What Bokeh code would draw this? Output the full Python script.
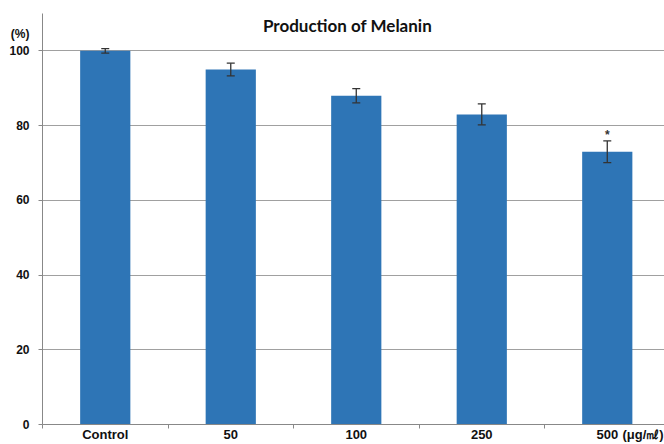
from bokeh.plotting import figure
from bokeh.models import (ColumnDataSource, Whisker, FixedTicker, Range1d, Label, TeeHead)
from bokeh.core.properties import value
from bokeh.embed import file_html
from bokeh.resources import INLINE

categories = ["Control", "50", "100", "250", "500"]
melanin = [100.0, 95.0, 88.0, 83.0, 73.0]
errors = [0.6, 1.7, 1.9, 2.8, 2.9]
marks = ["", "", "", "", "*"]
y_ticks = [0, 20, 40, 60, 80, 100]
y_unit = "(%)"
x_unit = "(μg/㎖)"

xpos = [i + 0.5 for i in range(len(categories))]
src = ColumnDataSource(dict(
    x=xpos, top=melanin,
    upper=[v + e for v, e in zip(melanin, errors)],
    lower=[v - e for v, e in zip(melanin, errors)],
    star_y=[v + e + 1.6 for v, e in zip(melanin, errors)],
    mark=marks,
))

p = figure(width=664, height=444, output_backend="svg", toolbar_location=None,
           x_range=Range1d(0, 4.956), y_range=Range1d(0, 110),
           min_border_left=42, min_border_right=0, min_border_top=13, min_border_bottom=0)
p.outline_line_color = None
p.background_fill_color = "white"

p.vbar(x="x", top="top", width=0.4, source=src, color="#2E75B6", line_color=None)

w = Whisker(base="x", upper="upper", lower="lower", source=src, line_color="#333333",
            line_width=1.3, level="overlay")
w.upper_head = TeeHead(size=8, line_color="#333333", line_width=1.3)
w.lower_head = TeeHead(size=8, line_color="#333333", line_width=1.3)
p.add_layout(w)

p.text(x="x", y="star_y", text="mark", source=src, text_align="center",
       text_baseline="middle", text_font=value("Liberation Sans"),
       text_font_style="bold", text_font_size="12px", text_color="#333333")

# x axis: labels at category centres, tick marks at category boundaries
unit_x = 4.785
p.xaxis.ticker = FixedTicker(ticks=xpos + [unit_x], minor_ticks=list(range(len(categories))))
overrides = {x: c for x, c in zip(xpos, categories)}
overrides[unit_x] = x_unit
p.xaxis.major_label_overrides = overrides
p.xaxis.major_tick_line_color = None
p.xaxis.major_tick_out = 0
p.xaxis.major_tick_in = 0
p.xaxis.minor_tick_line_color = "#888888"
p.xaxis.minor_tick_out = 0
p.xaxis.minor_tick_in = -4
p.xaxis.axis_line_color = "#888888"
p.xaxis.major_label_standoff = 2
p.xaxis.major_label_text_font = "Liberation Sans"
p.xaxis.major_label_text_font_style = "bold"
p.xaxis.major_label_text_font_size = "13px"
p.xaxis.major_label_text_color = "#111111"

# y axis: "(%)" as a label above 100
unit_y = 104.5
p.yaxis.ticker = FixedTicker(ticks=y_ticks + [unit_y], minor_ticks=y_ticks)
p.yaxis.major_label_overrides = {unit_y: y_unit}
p.yaxis.major_tick_line_color = None
p.yaxis.major_tick_out = 0
p.yaxis.major_tick_in = 0
p.yaxis.minor_tick_out = 4
p.yaxis.minor_tick_in = 0
p.yaxis.minor_tick_line_color = "#888888"
p.yaxis.axis_line_color = "#888888"
p.yaxis.major_label_standoff = 9
p.yaxis.major_label_text_font = "Liberation Sans"
p.yaxis.major_label_text_font_style = "bold"
p.yaxis.major_label_text_font_size = "12px"
p.yaxis.major_label_text_color = "#111111"

p.xgrid.grid_line_color = None
p.ygrid.ticker = FixedTicker(ticks=y_ticks)
p.ygrid.grid_line_color = "#A0A0A0"
p.ygrid.grid_line_width = 1

title = Label(x=347, y=25, x_units="canvas", y_units="canvas",
              text="Production of Melanin", text_align="center",
              text_baseline="middle", text_font="Lato", text_font_style="bold",
              text_font_size="17px", text_color="#111111", level="overlay")
p.add_layout(title)

open("out.html", "w").write(file_html(p, INLINE))
